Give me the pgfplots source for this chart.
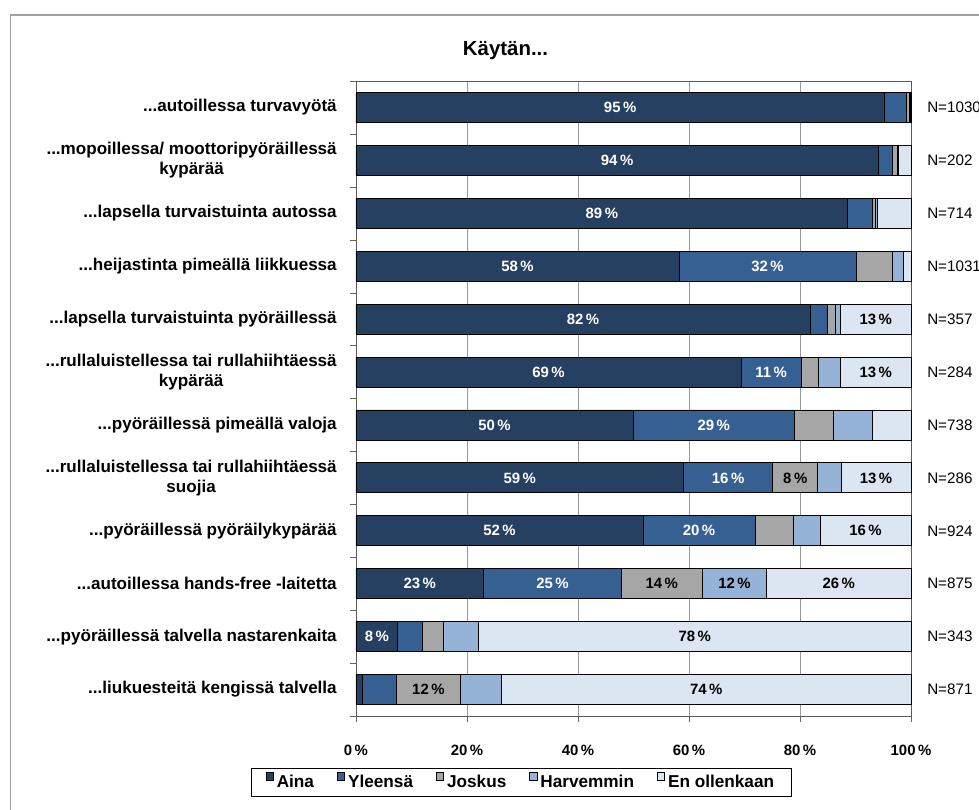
\documentclass[border=0pt]{standalone}
\usepackage{pgfplots}
\pgfplotsset{compat=1.18}
\usepackage{pgfplotstable}
\usepackage{fontspec}
\setmainfont{Liberation Sans}

\definecolor{aina}{HTML}{254061}
\definecolor{yleensa}{HTML}{376092}
\definecolor{joskus}{HTML}{A6A6A6}
\definecolor{harv}{HTML}{95B3D7}
\definecolor{enoll}{HTML}{DCE6F2}
\definecolor{framegray}{HTML}{A0A0A0}

% shares in % (Aina, Yleensa, Joskus, Harvemmin, En ollenkaan), printed labels, N
\pgfplotstableread{
y  a    b    c    d    e    la lb lc ld le n
0  95.2 4.0  0.5  0.2  0.1  95 -  -  -  -  1030
1  94.1 2.5  1.0  0.1  2.3  94 -  -  -  -  202
2  88.6 4.4  0.5  0.5  6.0  89 -  -  -  -  714
3  58.2 31.9 6.6  1.9  1.4  58 32 -  -  -  1031
4  81.8 3.2  1.3  1.0  12.7 82 -  -  -  13 357
5  69.4 10.8 3.2  3.9  12.7 69 11 -  -  13 284
6  49.9 29.1 7.0  7.1  6.9  50 29 -  -  -  738
7  59.0 16.1 8.1  4.2  12.6 59 16 8  -  13 286
8  51.7 20.2 6.9  4.8  16.4 52 20 -  -  16 924
9  23.0 24.8 14.6 11.6 26.0 23 25 14 12 26 875
10 7.5  4.4  3.9  6.3  77.9 8  -  -  -  78 343
11 1.2  6.0  11.7 7.3  73.8 -  -  12 -  74 871
}\data

% label only where a value is given
\newcommand\pct[1]{\edef\tmp{#1}\def\dash{-}\ifx\tmp\dash\else#1\,\%\fi}
% three dots, hidden from \foreach
\newcommand\ddd{...}

\begin{document}
\begin{tikzpicture}
% chart area frame
\draw[framegray, line width=0.8pt] (-259pt,-100pt) -- (-259pt,525.75pt) -- (520pt,525.75pt);
\begin{axis}[
  at={(0pt,0pt)}, anchor=south west,
  scale only axis, width=416.25pt, height=476.25pt,
  xbar stacked, bar width=22.5pt,
  xmin=0, xmax=100, ymin=-0.5, ymax=11.5, y dir=reverse,
  clip=false,
  axis line style={black!65},
  xtick={0,20,40,60,80,100},
  xticklabels={0\,\%,20\,\%,40\,\%,60\,\%,80\,\%,100\,\%},
  xticklabel style={anchor=center, yshift=-21pt, font=\fontsize{11.2}{13}\selectfont\bfseries},
  xmajorgrids, major grid style={black!40},
  ytick={0,1,2,3,4,5,6,7,8,9,10,11},
  yticklabels={
    {\ddd autoillessa turvavyötä},
    {\ddd mopoillessa/ moottoripyöräillessä\\kypärää},
    {\ddd lapsella turvaistuinta autossa},
    {\ddd heijastinta pimeällä liikkuessa},
    {\ddd lapsella turvaistuinta pyöräillessä},
    {\ddd rullaluistellessa tai rullahiihtäessä\\kypärää},
    {\ddd pyöräillessä pimeällä valoja},
    {\ddd rullaluistellessa tai rullahiihtäessä\\suojia},
    {\ddd pyöräillessä pyöräilykypärää},
    {\ddd autoillessa hands-free -laitetta},
    {\ddd pyöräillessä talvella nastarenkaita},
    {\ddd liukuesteitä kengissä talvella}},
  yticklabel style={align=center, inner sep=0pt, xshift=-9.75pt,
    font=\fontsize{12.8}{15}\selectfont\bfseries},
  minor ytick={-0.5,0.5,1.5,2.5,3.5,4.5,5.5,6.5,7.5,8.5,9.5,10.5,11.5},
  tick align=outside, tick pos=left,
  major tick length=4.5pt, minor tick length=4.5pt,
  tick style={black!60},
  major y tick style={draw=none},
  title={Käytän\ddd},
  title style={at={(0.2694,1.0283)}, anchor=base, font=\fontsize{15.3}{18}\selectfont\bfseries},
  legend columns=5,
  legend style={at={(0.298,-0.1047)}, anchor=center, draw=black, line width=0.6pt,
    inner xsep=11pt, inner ysep=3pt,
    font=\fontsize{12.9}{15}\selectfont\bfseries,
    nodes={inner xsep=2.2pt},
    /tikz/every even column/.append style={column sep=15pt}},
  legend image code/.code={\draw[#1, draw=black, line width=0.5pt] (0pt,1.9pt) rectangle (5.6pt,7.5pt);},
  point meta=explicit symbolic,
  nodes near coords={\pct{\pgfplotspointmeta}},
  every node near coord/.append style={anchor=center,
    font=\fontsize{11.2}{13}\selectfont\bfseries},
]
\addplot[fill=aina, draw=black, line width=0.6pt,
  every node near coord/.append style={text=white}]
  table[x=a, y=y, meta=la] {\data};
\addplot[fill=yleensa, draw=black, line width=0.6pt,
  every node near coord/.append style={text=white}]
  table[x=b, y=y, meta=lb] {\data};
\addplot[fill=joskus, draw=black, line width=0.6pt,
  every node near coord/.append style={text=black}]
  table[x=c, y=y, meta=lc] {\data};
\addplot[fill=harv, draw=black, line width=0.6pt,
  every node near coord/.append style={text=black}]
  table[x=d, y=y, meta=ld] {\data};
\addplot[fill=enoll, draw=black, line width=0.6pt,
  every node near coord/.append style={text=black}]
  table[x=e, y=y, meta=le] {\data};
\legend{Aina, Yleensä, Joskus, Harvemmin, En ollenkaan}
\end{axis}
% N of each row, as tick labels on the right of a bare copy of the axis
\begin{axis}[
  at={(0pt,0pt)}, anchor=south west,
  scale only axis, width=416.25pt, height=476.25pt,
  xmin=0, xmax=100, ymin=-0.5, ymax=11.5, y dir=reverse,
  axis line style={draw=none}, tick style={draw=none},
  xtick=\empty,
  ytick={0,1,2,3,4,5,6,7,8,9,10,11},
  yticklabel pos=right,
  yticklabels={N=1030,N=202,N=714,N=1031,N=357,N=284,N=738,N=286,N=924,N=875,N=343,N=871},
  yticklabel style={anchor=west, inner sep=0pt, xshift=12pt,
    font=\fontsize{11.4}{13}\selectfont},
]
\end{axis}
\pgfresetboundingbox
\useasboundingbox (-267pt,-70.5pt) rectangle (467.25pt,537pt);
\end{tikzpicture}
\end{document}
